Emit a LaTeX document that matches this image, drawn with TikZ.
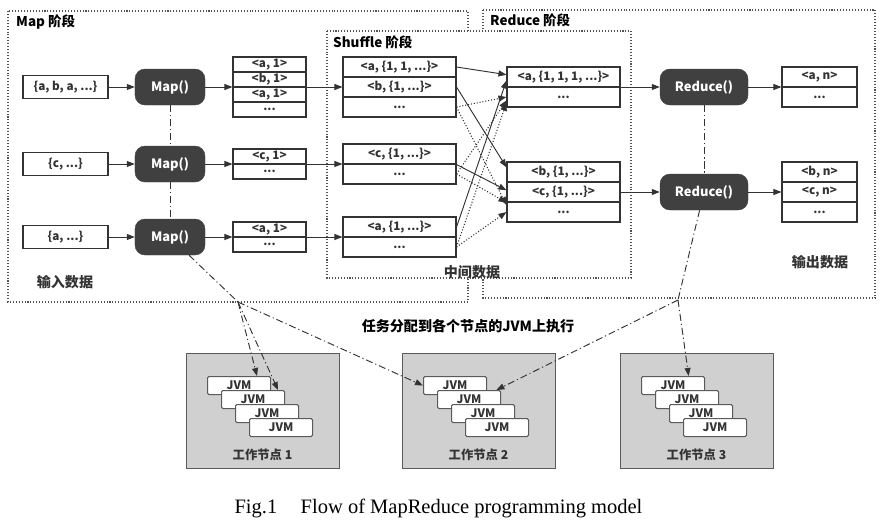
\documentclass[tikz,border=0pt]{standalone}
\usepackage{fontspec}
\setmainfont{Noto Sans CJK SC}
\newfontfamily\capfont{Liberation Serif}
\usetikzlibrary{arrows.meta,calc}
\definecolor{ink}{HTML}{333333}
\definecolor{fnfill}{HTML}{404040}
\definecolor{wkfill}{HTML}{D0D0D0}
\definecolor{wkline}{HTML}{5A5A5A}
\tikzset{
  >={Triangle[length=2.4mm,width=1.8mm]},
  stagebox/.style={draw=ink!85,line width=0.9pt,dash pattern=on 0.9pt off 1.6pt},
  stagelbl/.style={font=\fontsize{11.5}{13}\selectfont\bfseries,anchor=west,inner sep=0pt},
  datalbl/.style={font=\fontsize{12}{14}\selectfont\bfseries,text=ink,inner sep=0pt},
  inbox/.style={draw=ink,line width=0.9pt,minimum width=25.5mm,minimum height=6.9mm,
    inner sep=0pt,text=ink,font=\fontsize{10}{11}\selectfont\bfseries},
  fnbox/.style={draw=fnfill,fill=fnfill,rounded corners=3mm,minimum height=10.8mm,
    text=white,font=\fontsize{11}{12}\selectfont\bfseries,inner sep=0pt},
  cell/.style={draw=ink,line width=0.9pt,minimum height=4.5mm,inner sep=0pt,
    text=ink,font=\fontsize{10}{11}\selectfont\bfseries},
  kvcell/.style={cell,minimum height=6mm,minimum width=33.9mm},
  flow/.style={->,draw=ink,line width=0.8pt},
  spill/.style={flow,line width=0.9pt,dash pattern=on 0.9pt off 1.6pt},
  taskln/.style={draw=ink,line width=0.8pt,dash pattern=on 6pt off 2.5pt on 1pt off 2.5pt},
  worker/.style={draw=wkline,fill=wkfill,line width=1.2pt,minimum width=45.9mm,
    minimum height=34.5mm,anchor=north west},
  jvmbox/.style={draw=wkline,fill=white,rounded corners=1.2pt,line width=0.9pt,
    minimum width=18.9mm,minimum height=5.4mm,inner sep=0pt,anchor=north west,
    text=ink,font=\fontsize{10}{12}\selectfont\bfseries},
}

\begin{document}
\begin{tikzpicture}[x=0.03cm,y=-0.03cm]
  \useasboundingbox (0,0) rectangle (883,521);
  % stages
  \draw[stagebox] (8,11) rectangle (468,302);
  \draw[stagebox] (483,10) rectangle (875,298);
  \draw[stagebox,fill=white] (327,31) rectangle (631,278);
  \node[stagelbl] (mapst) at (16,22) {Map 阶段};
  \node[stagelbl] (redst) at (490,20) {Reduce 阶段};
  \node[stagelbl] (shfst) at (333,42) {Shuffle 阶段};
  \node[datalbl] (indata) at (65,282) {输入数据};
  \node[datalbl] (middata) at (472,272) {中间数据};
  \node[datalbl] (outdata) at (820,262) {输出数据};

  % map side
  \foreach \i/\y/\t in {1/87/{\{a, b, a, ...\}},2/164/{\{c, ...\}},3/237/{\{a, ...\}}} {
    \node[inbox] (in\i) at (65.5,\y) {\t};
    \node[fnbox,minimum width=21mm] (map\i) at (170,\y) {Map()};
  }
  \foreach \k/\t in {0/{<a, 1>},1/{<b, 1>},2/{<a, 1>},3/{...}}
    \node[cell,minimum width=21.9mm] (ml1\k) at (269.5,{64.5+15*\k}) {\t};
  \foreach \k/\t in {0/{<c, 1>},1/{...}}
    \node[cell,minimum width=21.9mm] (ml2\k) at (269.5,{156.5+15*\k}) {\t};
  \foreach \k/\t in {0/{<a, 1>},1/{...}}
    \node[cell,minimum width=21.9mm] (ml3\k) at (269.5,{229.5+15*\k}) {\t};

  % shuffle
  \foreach \k/\t in {0/{<a, \{1, 1, ...\}>},1/{<b, \{1, ...\}>},2/{...}}
    \node[kvcell] (sl1\k) at (399.5,{67+20*\k}) {\t};
  \foreach \k/\t in {0/{<c, \{1, ...\}>},1/{...}}
    \node[kvcell] (sl2\k) at (399.5,{154+20*\k}) {\t};
  \foreach \k/\t in {0/{<a, \{1, ...\}>},1/{...}}
    \node[kvcell] (sl3\k) at (399.5,{227+20*\k}) {\t};

  % reduce side
  \foreach \k/\t in {0/{<a, \{1, 1, 1, ...\}>},1/{...}}
    \node[kvcell] (rl1\k) at (563.5,{77+20*\k}) {\t};
  \foreach \k/\t in {0/{<b, \{1, ...\}>},1/{<c, \{1, ...\}>},2/{...}}
    \node[kvcell] (rl2\k) at (563.5,{172+20*\k}) {\t};
  \node[fnbox,minimum width=26.4mm] (red1) at (704,87) {Reduce()};
  \node[fnbox,minimum width=26.4mm] (red2) at (704,192) {Reduce()};
  \foreach \k/\t in {0/{<a, n>},1/{...}}
    \node[cell,minimum height=6mm,minimum width=22.5mm] (ol1\k) at (819.5,{77+20*\k}) {\t};
  \foreach \k/\t in {0/{<b, n>},1/{<c, n>},2/{...}}
    \node[cell,minimum height=6mm,minimum width=22.5mm] (ol2\k) at (819.5,{172+20*\k}) {\t};

  \foreach \i in {1,2,3} {
    \draw[flow] (in\i) -- (map\i);
    \draw[flow] (map\i) -- (map\i -| ml\i0.west);
    \draw[flow] (map\i -| ml\i0.west) -- (map\i -| sl\i0.west);
  }
  \foreach \i in {1,2} {
    \draw[flow] (red\i -| rl\i0.east) -- (red\i);
    \draw[flow] (red\i) -- (red\i -| ol\i0.west);
  }
  \draw[flow] (sl10.east) -- ([yshift=2pt]rl10.west);
  \draw[flow] (sl11.east) -- ([yshift=4pt]rl20.west);
  \draw[flow] (sl20.south east) -- ([yshift=1.5pt]rl21.west);
  \draw[flow] (sl30.east) -- ([yshift=-3pt]rl10.west);
  \draw[spill] (sl12.east) -- (rl11.west);
  \draw[spill] (sl12.east) -- ([yshift=6pt]rl22.west);
  \draw[spill] (sl21.east) -- ([yshift=-3pt]rl11.west);
  \draw[spill] (sl21.east) -- (rl21.south west);
  \draw[spill] (sl31.east) -- ([yshift=-5pt]rl11.west);
  \draw[spill] (sl31.east) -- (rl22.west);

  \draw[taskln] (map1) -- (map2);
  \draw[taskln] (map2) -- (map3);
  \draw[taskln] (red1) -- (red2);

  % worker nodes
  \foreach \w/\x in {1/186,2/402,3/620} {
    \node[worker] (wk\w) at (\x,353) {};
    \foreach \k in {0,...,3}
      \node[jvmbox] (jvm\w\k) at ({\x+21+14*\k},{376+14*\k}) {JVM};
    \node[font=\fontsize{10.5}{12}\selectfont\bfseries,text=ink] (wl\w) at ({\x+76.5},455) {工作节点 \w};
  }
  \node[datalbl,text=black] (task) at (468,326) {任务分配到各个节点的JVM上执行};

  \coordinate (hub1) at (238,302);
  \coordinate (hub2) at (678,300);
  \draw[taskln] (map3) -- (hub1);
  \draw[taskln,->] (hub1) -- ([xshift=-12pt]jvm10.north east);
  \draw[taskln,->] (hub1) -- ([xshift=-6pt]jvm11.north east);
  \draw[taskln,->] (hub1) -- (jvm20.west);
  \draw[taskln] (red2) -- (hub2);
  \draw[taskln,->] (hub2) -- ([xshift=-14pt]jvm30.north east);
  \draw[taskln,->] (hub2) -- ([xshift=-4pt]jvm21.north east);

  \node[font=\capfont\fontsize{17.5}{20}\selectfont,anchor=base] (cap) at (438.5,513)
    {Fig.1\hspace{20pt}Flow of MapReduce programming model};
\end{tikzpicture}
\end{document}
